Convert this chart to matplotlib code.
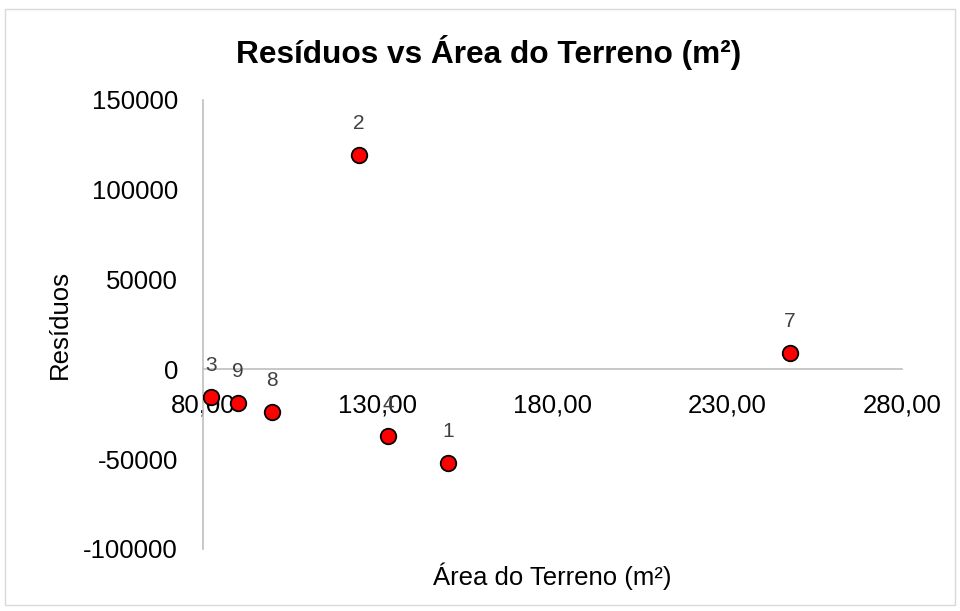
import matplotlib as mpl
mpl.use("Agg")
import matplotlib.pyplot as plt
from matplotlib.patches import Rectangle
from matplotlib.ticker import FuncFormatter

# Data
obs_ids = ["1", "2", "3", "4", "7", "8", "9"]
area_m2 = [150.1, 124.6, 82.3, 132.9, 248.0, 99.7, 90.0]
residuos = [-52300, 119100, -15600, -37300, 8900, -23900, -18900]

x_ticks = [80, 130, 180, 230, 280]
y_ticks = [-100000, -50000, 0, 50000, 100000, 150000]

plt.rcParams['font.family'] = ['Liberation Sans', 'DejaVu Sans']

fig = plt.figure(figsize=(9.6, 6.11), dpi=100)
ax = fig.add_axes([203/960, 1 - 549/611, (902 - 203)/960, (549 - 100)/611])

# outer chart border
fig.patches.append(Rectangle((5/960, 1 - 605/611), 950/960, 596/611, transform=fig.transFigure,
                             fill=False, ec="#d9d9d9", lw=1.0))

ax.scatter(area_m2, residuos, s=125, c="#ff0000", edgecolors="black", linewidths=1.3, zorder=3)
for lab, x, y in zip(obs_ids, area_m2, residuos):
  ax.annotate(lab, (x, y), xytext=(0, 32), textcoords="offset pixels", ha="center", va="center",
              fontsize=15, color="#404040", zorder=4)

ax.set_xlim(80, 280)
ax.set_ylim(-100000, 150000)
ax.set_xticks(x_ticks)
ax.set_yticks(y_ticks)
ax.xaxis.set_major_formatter(FuncFormatter(lambda v, p: "{:.2f}".format(v).replace(".", ",")))
ax.yaxis.set_major_formatter(FuncFormatter(lambda v, p: "{:d}".format(int(v))))

for side in ["top", "right"]:
  ax.spines[side].set_visible(False)
ax.spines["bottom"].set_position(("data", 0))
for side in ["bottom", "left"]:
  ax.spines[side].set_color("#bfbfbf")
  ax.spines[side].set_linewidth(1.2)

ax.tick_params(axis="x", length=0, pad=17, labelsize=18.5, labelcolor="#000000")
ax.tick_params(axis="y", length=0, pad=18, labelsize=18.5, labelcolor="#000000")

ax.set_xlabel("Área do Terreno (m²)", fontsize=18.5, labelpad=0)
ax.xaxis.set_label_coords(0.5, 1 - (563 - 100)/449)
ax.set_ylabel("Resíduos", fontsize=18.5)
ax.yaxis.set_label_coords((72 - 203)/699, 0.5)

fig.text(489/960, 1 - 52/611, "Resíduos vs Área do Terreno (m²)", ha="center", va="center",
         fontsize=22.8, fontweight="bold")

fig.savefig("out.png", dpi=100)
